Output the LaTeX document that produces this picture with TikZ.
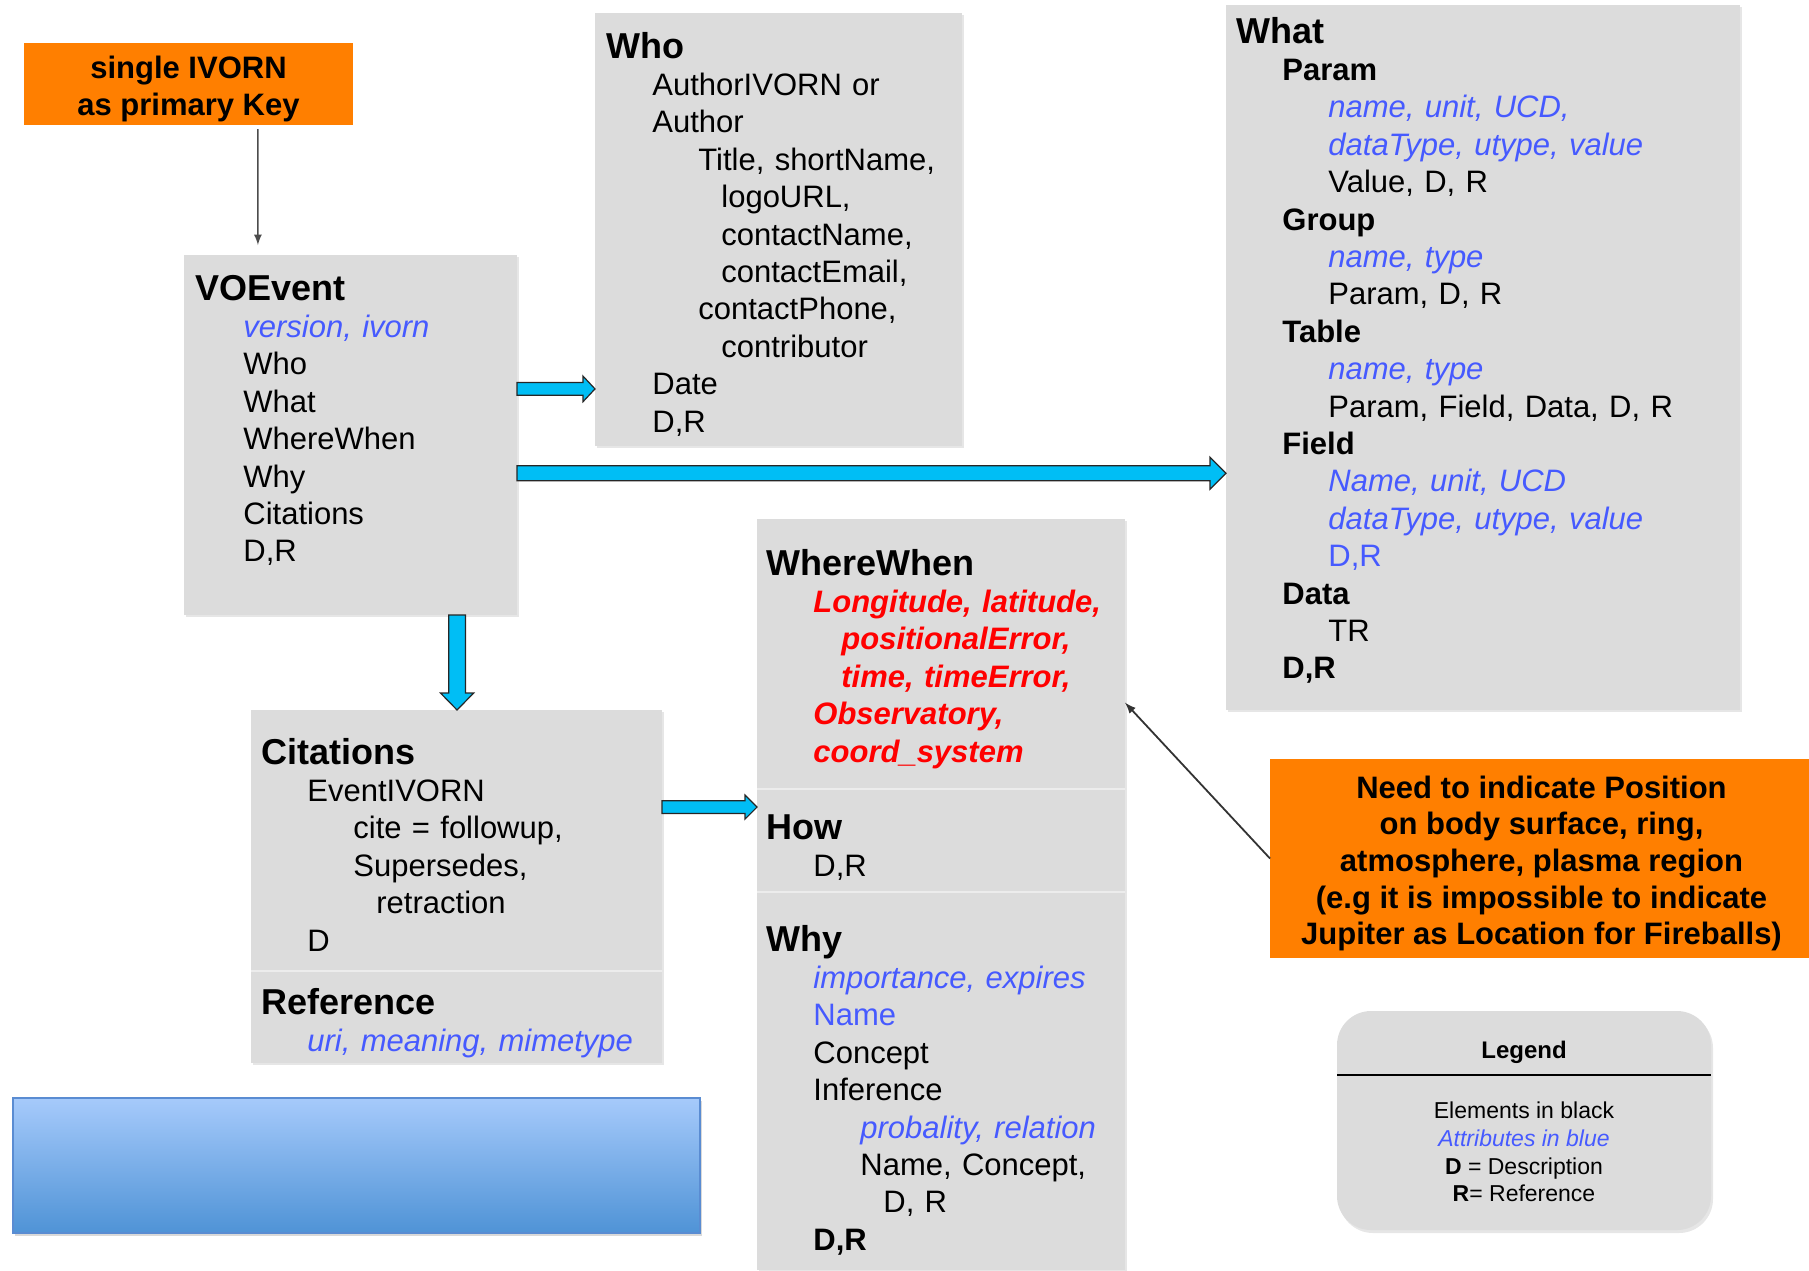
\documentclass[tikz,border=0pt]{standalone}
\usepackage{fontspec}
\setmainfont{Liberation Sans}
\usetikzlibrary{calc,positioning,shadows}

\definecolor{boxgray}{RGB}{220,220,220}
\definecolor{keyorange}{RGB}{255,127,0}
\definecolor{attrblue}{RGB}{70,90,255}
\definecolor{wwred}{RGB}{255,0,0}
\definecolor{fatcyan}{RGB}{0,190,245}
\definecolor{gradtop}{RGB}{166,202,251}
\definecolor{gradbot}{RGB}{79,147,214}
\definecolor{gradline}{RGB}{90,140,210}

\newcommand{\hd}[1]{{\fontsize{18}{18.7}\selectfont\bfseries #1}}
\newcommand{\elem}[1]{{\bfseries #1}}
\newcommand{\attr}[1]{{\color{attrblue}\itshape #1}}
\newcommand{\wwattr}[1]{{\color{wwred}\bfseries\itshape #1}}
\newcommand{\indt}[1]{\hspace*{#1pt}}

% block arrows: start, end, half shaft, half head, head length
\newcommand{\fatright}[5]{%
  \path[fatarrow] let \p1=#1, \p2=#2 in
    (\x1,{\y1+#3}) -- ({\x2-#5},{\y1+#3}) -- ({\x2-#5},{\y1+#4})
    -- (\x2,\y1) -- ({\x2-#5},{\y1-#4}) -- ({\x2-#5},{\y1-#3})
    -- (\x1,{\y1-#3}) -- cycle;}
\newcommand{\fatdown}[5]{%
  \path[fatarrow] let \p1=#1, \p2=#2 in
    ({\x1-#3},\y1) -- ({\x1-#3},{\y2+#5}) -- ({\x1-#4},{\y2+#5})
    -- (\x1,\y2) -- ({\x1+#4},{\y2+#5}) -- ({\x1+#3},{\y2+#5})
    -- ({\x1+#3},\y1) -- cycle;}

\tikzset{
  graybox/.style={rectangle, fill=boxgray, draw=none, outer sep=0pt, inner sep=0pt, anchor=north west,
    drop shadow={shadow xshift=0.8pt, shadow yshift=-1.2pt, opacity=0.2}},
  orangebox/.style={rectangle, fill=keyorange, outer sep=0pt, inner sep=0pt, anchor=north west},
  orangetext/.style={inner sep=0pt, align=center, font=\fontsize{15.5}{18.3}\selectfont\bfseries},
  bluebox/.style={rectangle, top color=gradtop, bottom color=gradbot, draw=gradline, line width=0.6pt,
    outer sep=0pt, inner sep=0pt, anchor=north west,
    drop shadow={shadow xshift=1pt, shadow yshift=-1.5pt, opacity=0.3}},
  legendbox/.style={rectangle, rounded corners=17pt, fill=boxgray, outer sep=0pt, inner sep=0pt, anchor=north west,
    drop shadow={shadow xshift=1pt, shadow yshift=-1.5pt, opacity=0.2}},
  boxtext/.style={anchor=base west, inner sep=0pt, align=left, text width=#1,
    font=\fontsize{15.5}{18.7}\selectfont},
  sepline/.style={draw={rgb,255:red,236;green,236;blue,236}, line width=1pt},
  fatarrow/.style={fill=fatcyan, draw=black!85, line width=0.6pt, line join=miter},
  keyline/.style={draw=black!70, line width=0.8pt, shorten <=2pt, shorten >=5pt},
  noteline/.style={draw=black!80, line width=0.9pt}
}

\begin{document}
\begin{tikzpicture}[x=0.5pt,y=-0.5pt]
\useasboundingbox (0,0) rectangle (1809,1270);

% boxes
\node[orangebox, minimum width=164.5pt, minimum height=41pt] (key) at (24,43) {};
\node[graybox, minimum width=166.5pt, minimum height=180pt] (voevent) at (184,255) {};
\node[graybox, minimum width=183.5pt, minimum height=216.5pt] (who) at (595,13) {};
\node[graybox, minimum width=257pt, minimum height=352.5pt] (what) at (1226,5) {};
\node[graybox, minimum width=184pt, minimum height=135pt] (wherewhen) at (757,519) {};
\node[graybox, minimum width=184pt, minimum height=51.5pt] (how) at (757,789) {};
\node[graybox, minimum width=184pt, minimum height=189pt] (why) at (757,892) {};
\node[graybox, minimum width=205.5pt, minimum height=130.5pt] (citations) at (251,710) {};
\node[graybox, minimum width=205.5pt, minimum height=46pt] (reference) at (251,971) {};
\node[bluebox, minimum width=343.5pt, minimum height=67.5pt] (bluebar) at (13,1098) {};
\node[legendbox, minimum width=187pt, minimum height=109.5pt] (legend) at (1337,1011) {};
\node[orangebox, minimum width=269.5pt, minimum height=99.5pt] (note) at (1270,759) {};

\draw[sepline] (how.north west) -- (how.north east);
\draw[sepline] (why.north west) -- (why.north east);
\draw[sepline] (reference.north west) -- (reference.north east);

% texts
\node[orangetext] (keytxt) at ($(key.center)+(0,5)$) {single IVORN\\as primary Key};
\node[orangetext] (notetxt) at ($(note.center)+(2,5)$)
  {Need to indicate Position\\on body surface, ring,\\atmosphere, plasma region\\(e.g it is impossible to indicate\\Jupiter as Location for Fireballs)};

\node[boxtext=200pt] (voeventtxt) at (195,300) {\hd{VOEvent}\\
  \indt{24}\attr{version, ivorn}\\
  \indt{24}Who\\
  \indt{24}What\\
  \indt{24}WhereWhen\\
  \indt{24}Why\\
  \indt{24}Citations\\
  \indt{24}D,R};

\node[boxtext=200pt] (whotxt) at (606,58) {\hd{Who}\\
  \indt{23}AuthorIVORN or\\
  \indt{23}Author\\
  \indt{46}Title, shortName,\\
  \indt{57.5}logoURL,\\
  \indt{57.5}contactName,\\
  \indt{57.5}contactEmail,\\
  \indt{46}contactPhone,\\
  \indt{57.5}contributor\\
  \indt{23}Date\\
  \indt{23}D,R};

\node[boxtext=270pt] (whattxt) at (1236,43) {\hd{What}\\
  \indt{23}\elem{Param}\\
  \indt{46}\attr{name, unit, UCD,}\\
  \indt{46}\attr{dataType, utype, value}\\
  \indt{46}Value, D, R\\
  \indt{23}\elem{Group}\\
  \indt{46}\attr{name, type}\\
  \indt{46}Param, D, R\\
  \indt{23}\elem{Table}\\
  \indt{46}\attr{name, type}\\
  \indt{46}Param, Field, Data, D, R\\
  \indt{23}\elem{Field}\\
  \indt{46}\attr{Name, unit, UCD}\\
  \indt{46}\attr{dataType, utype, value}\\
  \indt{46}{\color{attrblue}D,R}\\
  \indt{23}\elem{Data}\\
  \indt{46}TR\\
  \indt{23}\elem{D,R}};

\node[boxtext=200pt] (wherewhentxt) at (766,575) {\hd{WhereWhen}\\
  \indt{23.5}\wwattr{Longitude, latitude,}\\
  \indt{37.5}\wwattr{positionalError,}\\
  \indt{37.5}\wwattr{time, timeError,}\\
  \indt{23.5}\wwattr{Observatory,}\\
  \indt{23.5}\wwattr{coord\_system}};

\node[boxtext=200pt] (howtxt) at (766,839) {\hd{How}\\
  \indt{23.5}D,R};

\node[boxtext=200pt] (whytxt) at (766,951) {\hd{Why}\\
  \indt{23.5}\attr{importance, expires}\\
  \indt{23.5}{\color{attrblue}Name}\\
  \indt{23.5}Concept\\
  \indt{23.5}Inference\\
  \indt{47}\attr{probality, relation}\\
  \indt{47}Name, Concept,\\
  \indt{58.5}D, R\\
  \indt{23.5}\elem{D,R}};

\node[boxtext=220pt] (citationstxt) at (261,764) {\hd{Citations}\\
  \indt{23}EventIVORN\\
  \indt{46}cite = followup,\\
  \indt{46}Supersedes,\\
  \indt{57.5}retraction\\
  \indt{23}D};

\node[boxtext=220pt] (referencetxt) at (261,1014) {\hd{Reference}\\
  \indt{23}\attr{uri, meaning, mimetype}};

% legend
\node[font=\fontsize{12}{14}\selectfont\bfseries] (legendhead) at ($(legend.north)+(0,41)$) {Legend};
\draw[line width=0.8pt] ($(legend.north west)!0.292!(legend.south west)$) -- ($(legend.north east)!0.292!(legend.south east)$);
\node[align=center, font=\fontsize{11.5}{13.8}\selectfont] (legendtxt) at ($(legend.north)+(0,141)$)
  {Elements in black\\\attr{Attributes in blue}\\\textbf{D} = Description\\\textbf{R}= Reference};

% connectors
\draw[>=latex,->, keyline] ($(key.south west)!0.711!(key.south east)$) -- ($(voevent.north west)!0.222!(voevent.north east)$);
\draw[>=latex,->, noteline] (note.west) -- ($(wherewhen.north east)!0.68!(wherewhen.south east)$);

\fatright{($(voevent.north east)!0.372!(voevent.south east)$)}{(who.west)}{3.2pt}{6.4pt}{6pt}
\fatright{($(voevent.north east)!0.606!(voevent.south east)$)}{(what.west)}{3.75pt}{8pt}{8pt}
\fatdown{($(voevent.south west)!0.82!(voevent.south east)$)}{(citations.north)}{4.2pt}{8.3pt}{8.5pt}
\fatright{($(citations.north east)!0.372!(citations.south east)$)}{(wherewhen.west)}{3.2pt}{6pt}{6pt}

\end{tikzpicture}
\end{document}
